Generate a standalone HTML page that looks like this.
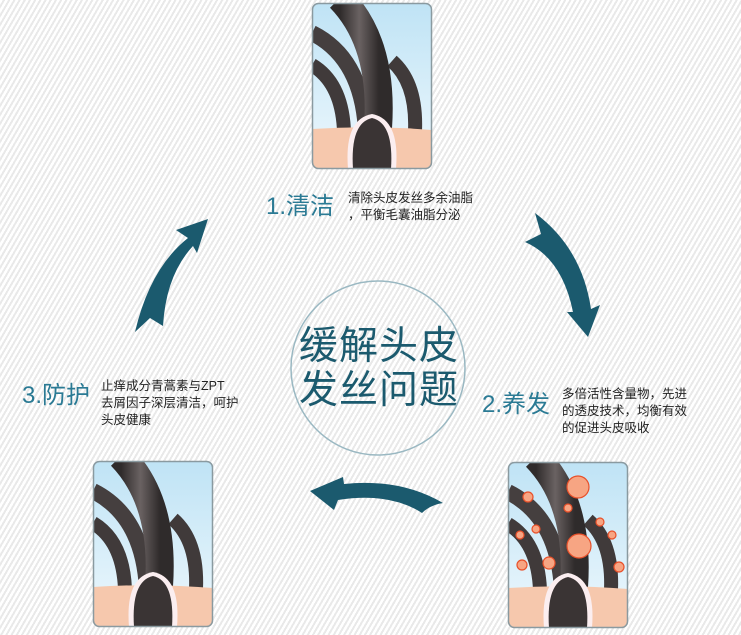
<!DOCTYPE html>
<html><head><meta charset="utf-8"><style>
html,body{margin:0;padding:0}
body{width:741px;height:635px;position:relative;overflow:hidden;background:#fff repeating-linear-gradient(120deg,#fff 0 2.5px,#e9e9e9 2.5px 4.5px);font-family:"Liberation Sans","Noto Sans CJK SC",sans-serif}
.t{position:absolute;color:#2a7a94;font-size:24px;white-space:nowrap;line-height:1}
.d{position:absolute;color:#222;font-size:12.5px;line-height:17px;white-space:nowrap}
.c{position:absolute;color:#1b5a6e;font-size:39px;line-height:44px;letter-spacing:1px;text-align:center}
</style></head><body>
<svg width="741" height="635" style="position:absolute;left:0;top:0">
<defs>
<linearGradient id="sky" x1="0" y1="0" x2="0" y2="1"><stop offset="0" stop-color="#bfe3f5"/><stop offset="1" stop-color="#eef8fd"/></linearGradient>
<linearGradient id="hr" x1="0" y1="0" x2="1" y2="0"><stop offset="0" stop-color="#2f2b2b"/><stop offset=".5" stop-color="#6a6262"/><stop offset="1" stop-color="#2f2b2b"/></linearGradient>
<clipPath id="cl"><rect x="0" y="0" width="120" height="166" rx="6"/></clipPath>
<g id="hair">
<g clip-path="url(#cl)">
<rect width="120" height="166" fill="url(#sky)"/>
<path d="M0,62 Q30,80 32,128" stroke="#403a3a" stroke-width="14" fill="none"/>
<path d="M0,30 Q50,55 54,128" stroke="#453f3f" stroke-width="16" fill="none"/>
<path d="M80,58 Q105,80 103,128" stroke="#403a3a" stroke-width="14" fill="none"/>
<path d="M28,-5 Q72,40 66,125" stroke="url(#hr)" stroke-width="28" fill="none"/>
<path d="M0,126 Q60,122 120,127 L120,166 L0,166Z" fill="#f6c8ad"/>
<path d="M36,166 Q32,116 60,111 Q88,116 84,166Z" fill="#fbeef0"/>
<path d="M41,166 Q38,120 60,115 Q82,120 79,166Z" fill="#3a3434"/>
</g>
<rect x=".5" y=".5" width="119" height="165" rx="6" fill="none" stroke="#8a9aa0" stroke-width="1.5"/>
</g>
</defs>
<use href="#hair" x="312" y="3"/>
<use href="#hair" x="93" y="461"/>
<use href="#hair" x="508" y="462"/>
<g fill="#f7a583" stroke="#e8502a" stroke-width="1.2">
<circle cx="578" cy="487" r="11"/><circle cx="579" cy="546" r="12"/>
<circle cx="528" cy="497" r="5"/><circle cx="536" cy="529" r="4"/><circle cx="520" cy="535" r="4"/>
<circle cx="522" cy="565" r="5"/><circle cx="549" cy="563" r="6"/><circle cx="600" cy="522" r="4"/>
<circle cx="612" cy="535" r="4"/><circle cx="619" cy="567" r="5"/><circle cx="568" cy="508" r="4"/>
</g>
<circle cx="378" cy="368" r="87" fill="none" stroke="#9ab8c2" stroke-width="1.5"/>
<g fill="#1b5a6e">
<path d="M535,213 L541,234 L525,242 Q562,258 573,312 L567,312 L588,337 L600,305 L591,309 Q582,248 535,213Z"/>
<path d="M443,503 Q400,478 344,484 L343,477 L310,491 L334,510 L338,500 Q390,492 422,513 Q430,505 443,503Z"/>
<path d="M135,332 Q150,268 188,238 L176,230 L208,219 L197,253 L193,246 Q166,275 163,326 L150,318Z"/>
</g>
</svg>
<div class="t" style="left:266px;top:195px">1.清洁</div>
<div class="d" style="left:348px;top:190px">清除头皮发丝多余油脂<br>，平衡毛囊油脂分泌</div>
<div class="t" style="left:482px;top:393px">2.养发</div>
<div class="d" style="left:562px;top:386px">多倍活性含量物，先进<br>的透皮技术，均衡有效<br>的促进头皮吸收</div>
<div class="t" style="left:22px;top:384px">3.防护</div>
<div class="d" style="left:101px;top:378px">止痒成分青蒿素与ZPT<br>去屑因子深层清洁，呵护<br>头皮健康</div>
<div class="c" style="left:298px;top:325px;width:162px">缓解头皮<br>发丝问题</div>
</body></html>
